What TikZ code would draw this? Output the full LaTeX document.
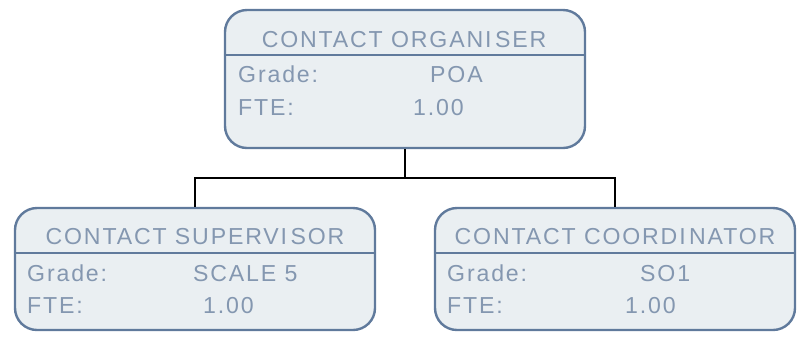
\documentclass[tikz,border=0pt]{standalone}
\usepackage{fontspec}
\usepackage{tikz}
\usetikzlibrary{positioning}
\newfontfamily\cardfont[LetterSpace=8]{Liberation Sans}
\definecolor{cardline}{RGB}{96,122,156}
\definecolor{cardfill}{RGB}{234,239,242}
\definecolor{cardtext}{RGB}{132,151,176}

\begin{document}
\begin{tikzpicture}[x=1bp,y=-1bp,
  card/.style={draw=cardline,line width=2.4bp,fill=cardfill,rounded corners=22bp,minimum width=360bp,inner sep=0pt},
  txt/.style={anchor=base west,inner sep=0pt,text=cardtext,font=\cardfont\fontsize{23.2}{27}\selectfont},
  head/.style={anchor=base,inner sep=0pt,text=cardtext,font=\cardfont\fontsize{23.2}{27}\selectfont},
  link/.style={draw=black,line width=2.6bp}]
\useasboundingbox (0,0) rectangle (800,340);
% boxes
\node[card,minimum height=138bp] (org) at (405,79) {};
\node[card,minimum height=122bp] (sup) at (195,269) {};
\node[card,minimum height=122bp] (coord) at (615,269) {};
\draw[cardline,line width=2.4bp] (org.west |- 0,55) -- (org.east |- 0,55);
\draw[cardline,line width=2.4bp] (sup.west |- 0,253) -- (sup.east |- 0,253);
\draw[cardline,line width=2.4bp] (coord.west |- 0,253) -- (coord.east |- 0,253);
% top box
\node[head] (orgname) at (404,47) {CONTACT ORGANI\hspace{0.15em}SER};
\node[txt] (orggl) at (238,82) {Grade:};
\node[txt] (orggv) at (430,82) {POA};
\node[txt] (orgfl) at (238,115) {FTE:};
\node[txt] (orgfv) at (413,115) {1.00};
% left box
\node[head] (supname) at (195,244) {CONTACT SUPERVI\hspace{0.15em}SOR};
\node[txt] (supgl) at (27,281) {Grade:};
\node[txt] (supgv) at (193,281) {SCALE 5};
\node[txt] (supfl) at (27,313) {FTE:};
\node[txt] (supfv) at (203,313) {1.00};
% right box
\node[head] (coordname) at (615,244) {CONTACT COORDI\hspace{0.15em}NATOR};
\node[txt] (coordgl) at (447,281) {Grade:};
\node[txt] (coordgv) at (640,281) {SO1};
\node[txt] (coordfl) at (447,313) {FTE:};
\node[txt] (coordfv) at (625,313) {1.00};
% links
\coordinate (split) at (405,178);
\draw[link] (org.south) -- (split);
\draw[link] (sup.north) |- (split) -| (coord.north);
\end{tikzpicture}
\end{document}
